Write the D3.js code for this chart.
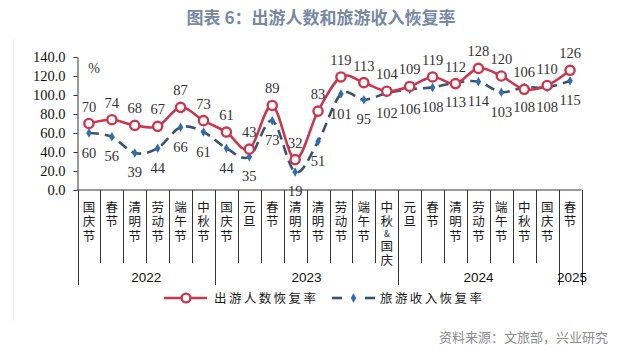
<!DOCTYPE html>
<html>
<head>
<meta charset="utf-8">
<script src="https://cdn.jsdelivr.net/npm/d3@7"></script>
<style>
  html, body { margin: 0; padding: 0; background: #fff; }
  svg { display: block; }
  .vlabel { writing-mode: vertical-rl; text-orientation: upright; }
</style>
</head>
<body>
<svg id="chart" width="642" height="351"></svg>
<script>
const categories = ["国庆节","春节","清明节","劳动节","端午节","中秋节",
  "国庆节","元旦","春节","清明节","清明节","劳动节","端午节","中秋&国庆",
  "元旦","春节","清明节","劳动节","端午节","中秋节","国庆节","春节"];
const years = ["2022","2023","2024","2025"];
const yearSpans = [6, 8, 7, 1];
const tripRecovery = [70,74,68,67,87,73,61,43,89,32,83,119,113,104,109,119,112,128,120,106,110,126];
const revenueRecovery = [60,56,39,44,66,61,44,35,73,19,51,101,95,102,106,108,113,114,103,108,108,115];
const yTicks = [0,20,40,60,80,100,120,140];
const seriesNames = ["出游人数恢复率","旅游收入恢复率"];

const svg = d3.select("#chart");
const red = "#c8384f", navy = "#3d5272", diamondBlue = "#2f6db0";
const cjk = "'Noto Sans CJK SC', sans-serif";
const serif = "'Liberation Serif', 'Times New Roman', serif";

// faint frame line
svg.append("line").attr("x1",13.5).attr("x2",13.5).attr("y1",38).attr("y2",321)
  .attr("stroke","#f0f0f0").attr("stroke-width",1);

// title
svg.append("text").attr("x",321).attr("y",23.5).attr("text-anchor","middle")
  .attr("font-family",cjk).attr("font-weight","bold").attr("font-size",17)
  .attr("fill","#7889a3").text("图表 6：出游人数和旅游收入恢复率");

const x = d3.scaleBand().domain(d3.range(categories.length)).range([77.5, 581.5]);
const y = d3.scaleLinear().domain([0,140]).range([190, 57]);
const cx = i => x(i) + x.bandwidth()/2;

// y axis
const yAxis = svg.append("g").attr("transform","translate(77.5,0)")
  .call(d3.axisLeft(y).tickValues(yTicks).tickFormat(d3.format(".1f"))
    .tickSize(4).tickSizeOuter(0).tickPadding(8));
yAxis.select(".domain").attr("stroke","#333");
yAxis.selectAll(".tick line").attr("stroke","#333");
yAxis.selectAll(".tick text").attr("font-family",serif).attr("font-size",14.5).attr("fill","#111");

// % label
svg.append("text").attr("x",94).attr("y",73).attr("text-anchor","middle")
  .attr("font-family",serif).attr("font-size",14).attr("fill","#333").text("%");

// x axis line
svg.append("line").attr("x1",77.5).attr("x2",581.5).attr("y1",y(0)).attr("y2",y(0))
  .attr("stroke","#333").attr("stroke-width",1);

// separators
const yearBounds = [0];
yearSpans.forEach((s,k)=>yearBounds.push(yearBounds[k]+s));
const grid = svg.append("g").attr("stroke","#333").attr("stroke-width",1);
for (let i = 0; i <= categories.length; i++) {
  const isYear = yearBounds.includes(i);
  const xp = i < categories.length ? x(i) : x.range()[1];
  grid.append("line").attr("x1",Math.round(xp)+0.5).attr("x2",Math.round(xp)+0.5)
    .attr("y1",y(0)).attr("y2",isYear ? 285 : 263);
}

// category labels (vertical, one text each)
categories.forEach((c,i)=>{
  const t = svg.append("text").attr("class","vlabel")
    .attr("x",cx(i)).attr("y",200.5)
    .attr("font-family",cjk).attr("font-size",12.5).attr("letter-spacing",2)
    .attr("fill","#1a1a1a");
  const parts = c.split(/(&)/).filter(p => p.length);
  parts.forEach(p=>{
    const ts = t.append("tspan").text(p);
    if (p === "&") ts.attr("font-size",8.5).attr("letter-spacing",1);
  });
});

// year labels
years.forEach((yr,k)=>{
  const a = yearBounds[k], b = yearBounds[k+1]-1;
  const xm = (x(a) + x(b) + x.bandwidth())/2;
  svg.append("text").attr("x", k === 3 ? xm + 2 : xm).attr("y",282).attr("text-anchor","middle")
    .attr("font-family","'Liberation Sans', Arial, sans-serif").attr("font-size",13.5)
    .attr("fill","#111").text(yr);
});

const curve = d3.curveCardinal.tension(0);
// revenue series (dashed)
svg.append("path").datum(revenueRecovery)
  .attr("d", d3.line().x((d,i)=>cx(i)).y(d=>y(d)).curve(curve))
  .attr("fill","none").attr("stroke",navy).attr("stroke-width",2.6)
  .attr("stroke-dasharray","10,6");
const diamond = d3.symbol().type(d3.symbolDiamond).size(26);
svg.append("g").selectAll("path").data(revenueRecovery).join("path")
  .attr("transform",(d,i)=>`translate(${cx(i)},${y(d)})`)
  .attr("d", diamond).attr("fill",diamondBlue);

// trip series
svg.append("path").datum(tripRecovery)
  .attr("d", d3.line().x((d,i)=>cx(i)).y(d=>y(d)).curve(curve))
  .attr("fill","none").attr("stroke",red).attr("stroke-width",2.6);
svg.append("g").selectAll("circle").data(tripRecovery).join("circle")
  .attr("cx",(d,i)=>cx(i)).attr("cy",d=>y(d)).attr("r",4.6)
  .attr("fill","#fff").attr("stroke",red).attr("stroke-width",2.4);

// data labels
svg.append("g").selectAll("text").data(tripRecovery).join("text")
  .attr("x",(d,i)=>cx(i)).attr("y",d=>y(d)-12).attr("text-anchor","middle")
  .attr("font-family",serif).attr("font-size",14.5).attr("fill","#333").text(d=>d);
svg.append("g").selectAll("text").data(revenueRecovery).join("text")
  .attr("x",(d,i)=>cx(i)).attr("y",d=>y(d)+24.5).attr("text-anchor","middle")
  .attr("font-family",serif).attr("font-size",14.5).attr("fill","#333").text(d=>d);

// legend
const lg = svg.append("g");
lg.append("line").attr("x1",164).attr("x2",207).attr("y1",298).attr("y2",298)
  .attr("stroke",red).attr("stroke-width",2.6);
lg.append("circle").attr("cx",186).attr("cy",298).attr("r",4.4)
  .attr("fill","#fff").attr("stroke",red).attr("stroke-width",2.4);
lg.append("text").attr("x",214).attr("y",298).attr("dy","0.36em")
  .attr("font-family",cjk).attr("font-size",12.5).attr("letter-spacing",2.4)
  .attr("fill","#1a1a1a").text(seriesNames[0]);
lg.append("line").attr("x1",332).attr("x2",342).attr("y1",298).attr("y2",298)
  .attr("stroke",navy).attr("stroke-width",2.6);
lg.append("line").attr("x1",365).attr("x2",375).attr("y1",298).attr("y2",298)
  .attr("stroke",navy).attr("stroke-width",2.6);
lg.append("path").attr("transform","translate(353.5,298)").attr("d",diamond).attr("fill",diamondBlue);
lg.append("text").attr("x",380).attr("y",298).attr("dy","0.36em")
  .attr("font-family",cjk).attr("font-size",12.5).attr("letter-spacing",2.4)
  .attr("fill","#1a1a1a").text(seriesNames[1]);

// source
svg.append("text").attr("x",608).attr("y",342).attr("text-anchor","end")
  .attr("font-family",cjk).attr("font-size",13).attr("fill","#8c8c8c")
  .text("资料来源：文旅部，兴业研究");
</script>
</body>
</html>
